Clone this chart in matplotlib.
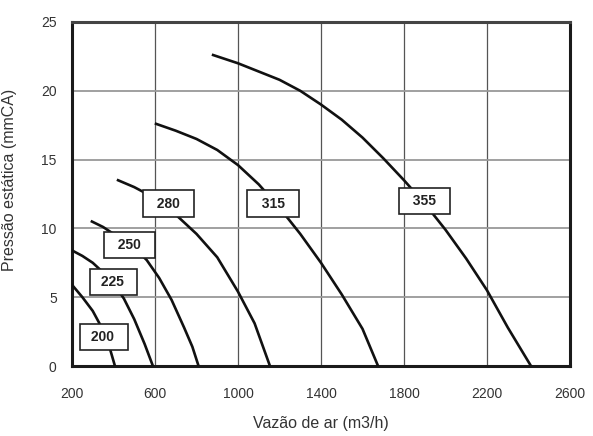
import matplotlib.pyplot as plt
import numpy as np

plt.rcParams['font.family'] = ['Liberation Sans', 'DejaVu Sans']

# curves: vazao (m3/h), pressao (mmCA)
x200 = [200, 250, 300, 350, 380, 407]
y200 = [5.9, 5.0, 4.0, 2.6, 1.4, 0.0]
x225 = [200, 250, 300, 350, 400, 450, 500, 550, 590]
y225 = [8.4, 8.0, 7.5, 6.8, 6.0, 4.9, 3.4, 1.6, 0.0]
x250 = [296, 350, 400, 450, 500, 560, 620, 680, 740, 780, 810]
y250 = [10.5, 10.1, 9.6, 9.1, 8.6, 7.7, 6.4, 4.8, 2.8, 1.4, 0.0]
x280 = [422, 500, 600, 700, 800, 900, 1000, 1080, 1154]
y280 = [13.5, 13.0, 12.2, 11.0, 9.6, 7.9, 5.4, 3.1, 0.0]
x315 = [605, 700, 800, 900, 1000, 1100, 1200, 1300, 1400, 1500, 1600, 1675]
y315 = [17.6, 17.1, 16.5, 15.7, 14.6, 13.2, 11.5, 9.6, 7.5, 5.2, 2.7, 0.0]
x355 = [880, 1000, 1100, 1200, 1300, 1400, 1500, 1600, 1700, 1800, 1900, 2000, 2100, 2200, 2300, 2360, 2412]
y355 = [22.6, 22.0, 21.4, 20.8, 20.0, 19.0, 17.9, 16.6, 15.1, 13.5, 11.8, 9.9, 7.8, 5.5, 2.8, 1.3, 0.0]

curves = [(x200, y200), (x225, y225), (x250, y250), (x280, y280), (x315, y315), (x355, y355)]

# label text and where the boxes sit
labels = [' 200  ', ' 225  ', '  250  ', '  280  ', '  315  ', '  355  ']
lab_x = [354, 402, 475, 663, 1169, 1899]
lab_y = [2.1, 6.1, 8.8, 11.8, 11.8, 12.0]

xticks = [200, 600, 1000, 1400, 1800, 2200, 2600]
yticks = [0, 5, 10, 15, 20, 25]

fig = plt.figure(figsize=(5.93, 4.36), dpi=100)
ax = fig.add_axes([72/593, 1 - 366/436, 498/593, 344/436])

for xs, ys in curves:
    ax.plot(xs, ys, color='#111111', lw=1.9, solid_joinstyle='round', zorder=3)

for t, lx, ly in zip(labels, lab_x, lab_y):
    ax.text(lx, ly, t, ha='center', va='center', fontsize=10, fontweight='bold',
            color='#222222', zorder=5,
            bbox=dict(boxstyle='square,pad=0.45', fc='white', ec='#222222', lw=1.2))

ax.set_xlim(200, 2600)
ax.set_ylim(0, 25)
ax.set_xticks(xticks)
ax.set_yticks(yticks)
ax.xaxis.grid(True, color='#555555', lw=0.9)
ax.yaxis.grid(True, color='#999999', lw=1.3)
ax.set_axisbelow(True)
ax.tick_params(axis='both', length=0, labelsize=10, labelcolor='#333333')
ax.tick_params(axis='x', pad=15)
ax.tick_params(axis='y', pad=11)

for s in ['left', 'bottom', 'right']:
    ax.spines[s].set_linewidth(2.2)
    ax.spines[s].set_color('#1a1a1a')
ax.spines['top'].set_linewidth(2.2)
ax.spines['top'].set_color('#444444')

ax.set_xlabel('Vazão de ar (m3/h)', fontsize=11.5, color='#333333')
ax.set_ylabel('Pressão estática (mmCA)', fontsize=11.5, color='#333333')
ax.xaxis.set_label_coords(0.5, -0.145)
ax.yaxis.set_label_coords(-0.11, 0.54)

fig.savefig('out.png', dpi=100)
